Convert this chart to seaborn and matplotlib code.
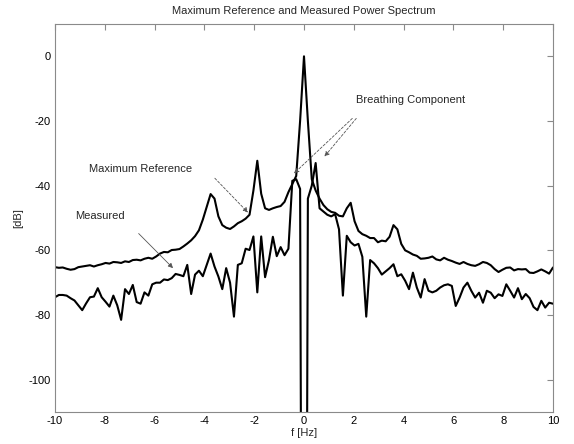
import numpy as np
import pandas as pd
import matplotlib
matplotlib.use("Agg")
import matplotlib.pyplot as plt
import seaborn as sns

# frequency grid [Hz]
freq = np.linspace(-10, 10, 129)

max_reference = [
    -65.2, -65.4, -65.3, -65.7, -66.0, -65.8, -65.2, -65.0, -64.8, -64.6,
    -65.0, -64.6, -64.3, -63.9, -64.1, -63.6, -63.7, -63.9, -63.4, -63.6,
    -63.0, -62.9, -63.1, -62.6, -62.3, -62.6, -61.9, -61.0, -60.5, -60.6,
    -59.9, -59.8, -59.6, -58.8, -57.9, -56.9, -55.6, -53.8, -50.5, -46.5,
    -42.6, -44.0, -49.5, -52.2, -53.0, -53.4, -52.6, -51.6, -51.0, -50.2,
    -49.0, -41.5, -32.3, -42.5, -47.0, -47.5, -47.0, -46.6, -46.3, -45.0,
    -42.0, -39.5, -37.0, -20.0, 0.0, -20.0, -38.0, -41.5, -44.0, -46.0,
    -47.3, -48.1, -48.4, -49.3, -49.5, -47.0, -45.3, -51.0, -54.0, -55.0,
    -55.5, -56.2, -56.2, -57.5, -57.0, -57.2, -55.8, -52.2, -53.5, -58.0,
    -60.0, -60.6, -61.3, -61.7, -62.6, -62.5, -62.3, -61.9, -62.8, -63.1,
    -62.3, -62.9, -63.3, -63.8, -64.2, -63.6, -64.2, -64.6, -64.8, -64.3,
    -63.6, -63.9, -64.6, -65.8, -66.7, -66.0, -65.4, -65.3, -66.2, -65.8,
    -65.9, -65.8, -66.9, -67.0, -66.5, -65.9, -66.5, -67.2, -65.3,
]

measured = [
    -74.5, -73.8, -73.8, -74.0, -74.8, -75.5, -77.0, -78.5, -76.4, -74.5,
    -74.3, -71.7, -74.5, -75.9, -77.4, -74.0, -77.0, -81.5, -72.0, -73.5,
    -70.7, -76.0, -76.5, -73.0, -74.0, -70.5, -70.0, -70.0, -69.0, -69.2,
    -68.6, -67.3, -67.6, -68.0, -64.5, -73.5, -67.5, -66.3, -68.0, -64.5,
    -61.0, -65.0, -68.1, -72.0, -65.5, -70.0, -80.5, -64.5, -64.0, -59.5,
    -59.9, -55.7, -73.0, -55.7, -68.3, -63.0, -55.8, -61.8, -59.0, -61.5,
    -59.5, -38.5, -38.0, -41.0, -400.0, -44.0, -40.0, -33.0, -47.0, -48.0,
    -49.0, -49.5, -48.8, -53.5, -74.0, -55.5, -57.5, -58.5, -58.0, -62.0,
    -80.5, -63.0, -64.0, -65.5, -67.5, -66.5, -65.5, -64.3, -68.0, -67.4,
    -69.4, -72.0, -66.9, -71.5, -74.6, -68.9, -72.5, -73.0, -72.5, -71.5,
    -70.8, -70.5, -71.0, -77.2, -74.6, -71.5, -70.0, -72.5, -74.6, -73.1,
    -76.2, -72.5, -73.1, -74.8, -73.6, -74.1, -70.5, -72.5, -74.6, -71.7,
    -75.1, -73.5, -74.8, -77.5, -78.5, -75.6, -77.7, -76.2, -76.5,
]

x_ticks = [-10, -8, -6, -4, -2, 0, 2, 4, 6, 8, 10]
y_ticks = [-100, -80, -60, -40, -20, 0]

title = "Maximum Reference and Measured Power Spectrum"
x_label = "f [Hz]"
y_label = "[dB]"

sns.set_theme(style="white")
plt.rcParams["font.family"] = ["Liberation Sans", "DejaVu Sans"]
plt.rcParams["axes.unicode_minus"] = False

df_ref = pd.DataFrame({"f": freq, "dB": max_reference})
df_meas = pd.DataFrame({"f": freq, "dB": measured})

fig = plt.figure(figsize=(5.74, 4.44), dpi=100)
ax = fig.add_axes([0.0958, 0.072, 0.8676, 0.874])

sns.lineplot(data=df_ref, x="f", y="dB", color="black", lw=1.5,
             estimator=None, sort=False, ax=ax)
sns.lineplot(data=df_meas, x="f", y="dB", color="black", lw=1.5,
             estimator=None, sort=False, ax=ax)

ax.set_xlim(-10, 10)
ax.set_ylim(-110, 10)
ax.set_xticks(x_ticks)
ax.set_yticks(y_ticks)
ax.set_xlabel(x_label, fontsize=8, labelpad=1)
ax.set_ylabel(y_label, fontsize=8, labelpad=4)
ax.set_title(title, fontsize=8, pad=7)

for s in ax.spines.values():
    s.set_color("#8a8a8a")
    s.set_linewidth(0.8)
ax.tick_params(direction="in", length=4, width=0.8, top=True, right=True,
               labelsize=8, colors="#8a8a8a", labelcolor="black", pad=3)

# annotations
ax.text(-8.65, -35.0, "Maximum Reference", fontsize=8, ha="left", va="center")
ax.text(-9.2, -49.4, "Measured", fontsize=8, ha="left", va="center")
ax.text(2.1, -13.5, "Breathing Component", fontsize=8, ha="left", va="center")

dash = (0, (3, 2))
ax.annotate("", xy=(-2.25, -48.3), xytext=(-3.58, -37.7),
            arrowprops=dict(arrowstyle="-|>", color="#555555", lw=0.6, ls=dash,
                            mutation_scale=7, shrinkA=0, shrinkB=0))
ax.annotate("", xy=(-5.26, -65.5), xytext=(-6.64, -54.8),
            arrowprops=dict(arrowstyle="-|>", color="#555555", lw=0.6,
                            mutation_scale=7, shrinkA=0, shrinkB=0))
ax.annotate("", xy=(-0.4, -36.2), xytext=(1.94, -19.2),
            arrowprops=dict(arrowstyle="-|>", color="#555555", lw=0.6, ls=dash,
                            mutation_scale=7, shrinkA=0, shrinkB=0))
ax.annotate("", xy=(0.82, -31.0), xytext=(2.10, -19.2),
            arrowprops=dict(arrowstyle="-|>", color="#555555", lw=0.6, ls=dash,
                            mutation_scale=7, shrinkA=0, shrinkB=0))

fig.savefig("out.png", dpi=100)
